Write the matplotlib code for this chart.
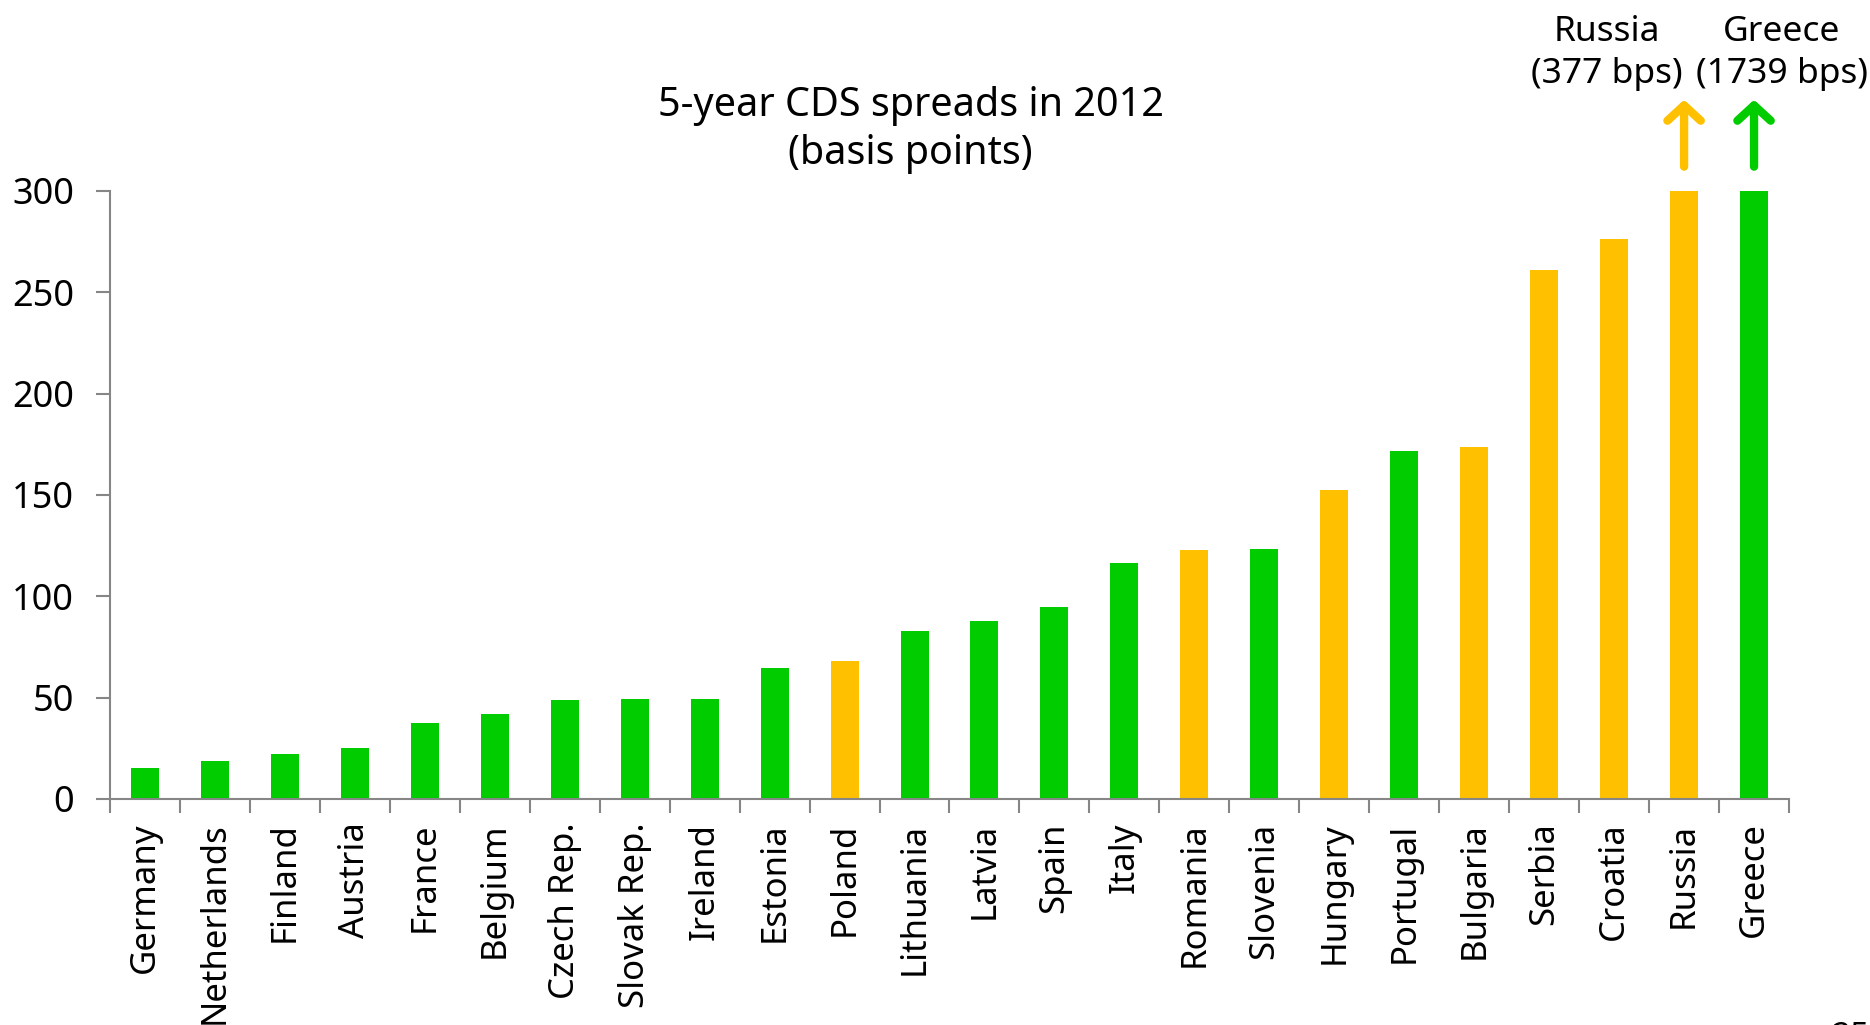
import matplotlib
matplotlib.use("Agg")
import matplotlib.pyplot as plt

plt.rcParams['font.family'] = ['Noto Sans', 'DejaVu Sans']

# 5-year CDS spreads in 2012 (basis points)
countries = ["Germany", "Netherlands", "Finland", "Austria", "France", "Belgium",
             "Czech Rep.", "Slovak Rep.", "Ireland", "Estonia", "Poland", "Lithuania",
             "Latvia", "Spain", "Italy", "Romania", "Slovenia", "Hungary", "Portugal",
             "Bulgaria", "Serbia", "Croatia", "Russia", "Greece"]
spreads = [15.3, 18.8, 22.4, 25.3, 37.6, 41.8, 48.8, 49.4, 49.4, 64.7, 68.2, 82.9,
           87.6, 94.7, 116.5, 123, 123.5, 152.4, 171.8, 173.5, 261, 276.5, 377, 1739]
# g = green group, o = orange group
groups = ["g", "g", "g", "g", "g", "g", "g", "g", "g", "g", "o", "g",
          "g", "g", "g", "o", "g", "o", "g", "o", "o", "o", "o", "g"]

GREEN = "#00CC00"
ORANGE = "#FFC000"
AXIS_GRAY = "#868686"
colors = [GREEN if g == "g" else ORANGE for g in groups]

fig = plt.figure(figsize=(18.7, 10.25), dpi=100)
ax = fig.add_axes([0.0588, 0.2205, 0.8979, 0.5932])

x = range(len(countries))
ax.bar(x, spreads, width=0.4, color=colors, zorder=2)

ax.set_xlim(-0.5, len(countries) - 0.5)
ax.set_ylim(0, 300)
ax.set_yticks([0, 50, 100, 150, 200, 250, 300])

for side in ["top", "right"]:
    ax.spines[side].set_visible(False)
for side in ["left", "bottom"]:
    ax.spines[side].set_color(AXIS_GRAY)
    ax.spines[side].set_linewidth(1.5)

ax.set_xticks(list(x))
ax.set_xticklabels(countries, rotation=90, va="top", ha="center")
ax.set_xticks([i - 0.5 for i in range(len(countries) + 1)], minor=True)
ax.tick_params(axis="x", which="major", length=0, pad=17, labelsize=25)
ax.tick_params(axis="x", which="minor", length=10, width=1.5, color=AXIS_GRAY)
ax.tick_params(axis="y", length=10, width=1.5, color=AXIS_GRAY, pad=16, labelsize=26)

fig.text(0.487, 0.873, "5-year CDS spreads in 2012\n(basis points)",
         ha="center", va="center", fontsize=28.5, linespacing=1.25)

# off-scale bars: arrows and notes
off_scale = [(22, "Russia\n(377 bps)", ORANGE, 20.9),
             (23, "Greece\n(1739 bps)", GREEN, 23.4)]
for idx, label, col, tx in off_scale:
    ax.annotate("", xy=(idx, 345), xytext=(idx, 312),
                arrowprops=dict(arrowstyle="->,head_length=0.55,head_width=0.6",
                                mutation_scale=20, color=col, lw=6,
                                capstyle="round", joinstyle="round",
                                shrinkA=0, shrinkB=0),
                annotation_clip=False)
    ax.text(tx, 368, label, ha="center", va="center", fontsize=25.5,
            linespacing=1.3, clip_on=False)

# slide number, cut off at the bottom edge
fig.text(0.9893, 1 - 1021 / 1025, "25", ha="center", va="top", fontsize=24)

fig.savefig("out.png", dpi=100)
